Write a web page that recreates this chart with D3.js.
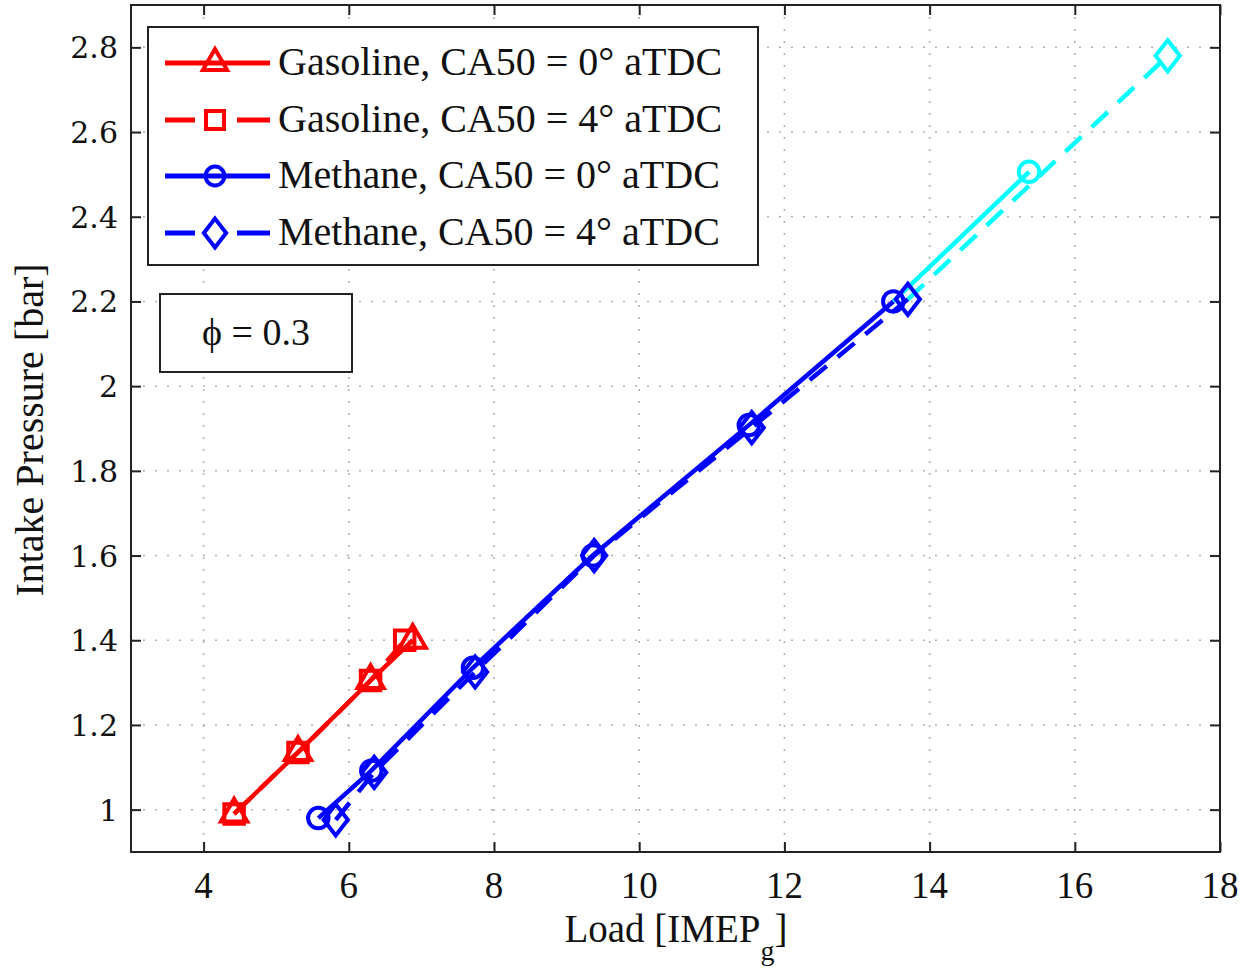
<!DOCTYPE html>
<html><head><meta charset="utf-8">
<script src="https://cdn.jsdelivr.net/npm/d3@7"></script>
<style>body{margin:0;background:#fff}svg{display:block}text{font-family:"Liberation Serif","Times New Roman",serif}</style>
</head><body>
<svg id="c" width="1247" height="968"></svg>
<script>
const xTicks=[4,6,8,10,12,14,16,18];
const yTicks=[1,1.2,1.4,1.6,1.8,2,2.2,2.4,2.6,2.8];
const yTickLabels=["1","1.2","1.4","1.6","1.8","2","2.2","2.4","2.6","2.8"];
const seriesNames=["Gasoline, CA50 = 0° aTDC","Gasoline, CA50 = 4° aTDC","Methane, CA50 = 0° aTDC","Methane, CA50 = 4° aTDC"];
const gas0X=[4.42,5.3,6.3,6.88], gas0Y=[0.99,1.135,1.305,1.40];
const gas4X=[4.42,5.3,6.3,6.77], gas4Y=[0.99,1.135,1.305,1.40];
const met0X=[5.58,6.31,7.71,9.36,11.51,13.5], met0Y=[0.98,1.092,1.335,1.60,1.908,2.20];
const met4X=[5.82,6.35,7.74,9.38,11.55,13.7], met4Y=[0.976,1.088,1.325,1.60,1.902,2.205];
const met0ExtX=[13.5,15.37], met0ExtY=[2.20,2.506];
const met4ExtX=[13.7,17.28], met4ExtY=[2.205,2.78];

const svg=d3.select("#c");
const L=131,R=1220,T=5,B=852;
const x=d3.scaleLinear().domain([3,18]).range([L,R]);
const y=d3.scaleLinear().domain([0.9,2.9]).range([B,T]);

// grid
const g=svg.append("g");
g.selectAll(".gx").data(xTicks).enter().append("line")
 .attr("x1",d=>x(d)).attr("x2",d=>x(d)).attr("y1",T).attr("y2",B)
 .attr("stroke","#b0b0b0").attr("stroke-width",1.5).attr("stroke-dasharray","2,10");
g.selectAll(".gy").data(yTicks).enter().append("line")
 .attr("y1",d=>y(d)).attr("y2",d=>y(d)).attr("x1",L).attr("x2",R)
 .attr("stroke","#b0b0b0").attr("stroke-width",1.5).attr("stroke-dasharray","2,10");

// axes (inward ticks on all four sides)
svg.append("g").attr("transform",`translate(0,${B})`).call(d3.axisTop(x).tickValues(xTicks).tickSize(10).tickFormat(""));
svg.append("g").attr("transform",`translate(0,${T})`).call(d3.axisBottom(x).tickValues(xTicks).tickSize(10).tickFormat(""));
svg.append("g").attr("transform",`translate(${L},0)`).call(d3.axisRight(y).tickValues(yTicks).tickSize(10).tickFormat(""));
svg.append("g").attr("transform",`translate(${R},0)`).call(d3.axisLeft(y).tickValues(yTicks).tickSize(10).tickFormat(""));
svg.selectAll(".domain").remove();
svg.selectAll(".tick line").attr("stroke","#222").attr("stroke-width",2);

// tick labels
svg.append("g").selectAll("text").data(xTicks).enter().append("text")
 .attr("x",d=>x(d)).attr("y",898).attr("text-anchor","middle")
 .attr("font-size",37).attr("fill","#111").text(d=>d);
svg.append("g").selectAll("text").data(yTicks).enter().append("text")
 .attr("x",118).attr("y",d=>y(d)+11).attr("text-anchor","end")
 .style("font-family","'DejaVu Serif',serif")
 .attr("font-size",30).attr("fill","#111").text((d,i)=>yTickLabels[i]);

// axis titles
svg.append("text").attr("transform","translate(43,430) rotate(-90)").attr("text-anchor","middle")
 .attr("font-size",40).attr("fill","#111").text("Intake Pressure [bar]");
const xt=svg.append("text").attr("x",676).attr("y",942).attr("text-anchor","middle").attr("font-size",39).attr("fill","#111");
xt.append("tspan").text("Load [IMEP");
xt.append("tspan").attr("font-size",28).attr("dy",18).text("g");
xt.append("tspan").attr("dy",-18).text("]");

// series
const RED="#ff0000",BLUE="#0000ff",CYAN="#00ffff";
const line=d3.line().x(d=>x(d[0])).y(d=>y(d[1]));
const zip=(a,b)=>a.map((v,i)=>[v,b[i]]);
const plot=svg.append("g");
function path(pts,color,dash){
  plot.append("path").attr("d",line(pts)).attr("fill","none").attr("stroke",color)
   .attr("stroke-width",4.5).attr("stroke-dasharray",dash||null);
}
const diamond={draw(ctx,size){const w=Math.sqrt(size)*0.62,h=Math.sqrt(size)*0.8;ctx.moveTo(0,-h);ctx.lineTo(w,0);ctx.lineTo(0,h);ctx.lineTo(-w,0);ctx.closePath();}};
const sym={tri:d3.symbolTriangle,sq:d3.symbolSquare,circ:d3.symbolCircle,dia:diamond};
const symSize={tri:300,sq:380,circ:330,dia:380};
function markers(pts,color,s){
  plot.selectAll(null).data(pts).enter().append("path")
   .attr("d",d3.symbol().type(sym[s]).size(symSize[s]))
   .attr("transform",d=>`translate(${x(d[0])},${y(d[1])})`)
   .attr("fill","none").attr("stroke",color).attr("stroke-width",4);
}
path(zip(met0ExtX,met0ExtY),CYAN);
path(zip(met4ExtX,met4ExtY),CYAN,"22,14");
markers([zip(met0ExtX,met0ExtY)[1]],CYAN,"circ");
markers([zip(met4ExtX,met4ExtY)[1]],CYAN,"dia");
path(zip(gas0X,gas0Y),RED);
path(zip(gas4X,gas4Y),RED,"22,14");
markers(zip(gas0X,gas0Y),RED,"tri");
markers(zip(gas4X,gas4Y),RED,"sq");
path(zip(met0X,met0Y),BLUE);
path(zip(met4X,met4Y),BLUE,"22,14");
markers(zip(met0X,met0Y),BLUE,"circ");
markers(zip(met4X,met4Y),BLUE,"dia");

// frame
svg.append("rect").attr("x",L).attr("y",T).attr("width",R-L).attr("height",B-T)
 .attr("fill","none").attr("stroke","#222").attr("stroke-width",2);

// legend
const lg=svg.append("g");
lg.append("rect").attr("x",148).attr("y",27).attr("width",610).attr("height",238)
 .attr("fill","#fff").attr("stroke","#222").attr("stroke-width",2);
const legY=[63,120,176,233];
const legColor=[RED,RED,BLUE,BLUE];
const legDash=[false,true,false,true];
const legSym=["tri","sq","circ","dia"];
seriesNames.forEach((n,i)=>{
  const yy=legY[i];
  if(legDash[i]){
    lg.append("line").attr("x1",165).attr("x2",195).attr("y1",yy).attr("y2",yy).attr("stroke",legColor[i]).attr("stroke-width",5);
    lg.append("line").attr("x1",237).attr("x2",270).attr("y1",yy).attr("y2",yy).attr("stroke",legColor[i]).attr("stroke-width",5);
  } else {
    lg.append("line").attr("x1",165).attr("x2",270).attr("y1",yy).attr("y2",yy).attr("stroke",legColor[i]).attr("stroke-width",5);
  }
  lg.append("path").attr("d",d3.symbol().type(sym[legSym[i]]).size(symSize[legSym[i]]*0.85)())
   .attr("transform",`translate(215,${yy})`)
   .attr("fill","none").attr("stroke",legColor[i]).attr("stroke-width",4);
  lg.append("text").attr("x",278).attr("y",yy+12).attr("font-size",40).attr("fill","#111").text(n);
});

// phi box
svg.append("rect").attr("x",160).attr("y",294).attr("width",192).attr("height",78)
 .attr("fill","#fff").attr("stroke","#222").attr("stroke-width",2);
svg.append("text").attr("x",256).attr("y",345).attr("text-anchor","middle").attr("font-size",38).attr("fill","#111").text("ϕ = 0.3");
</script>
</body></html>
